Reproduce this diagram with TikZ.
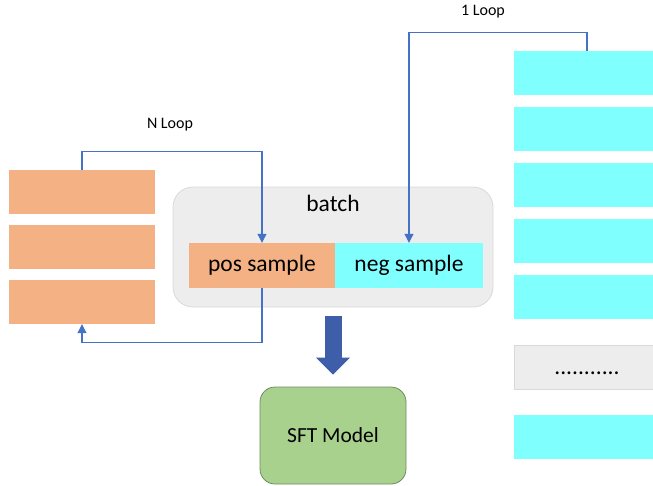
\documentclass[tikz,border=0pt]{standalone}
\usepackage{fontspec}
\setmainfont{Carlito}
\usetikzlibrary{arrows.meta,calc}
\definecolor{posorange}{RGB}{244,177,131}
\definecolor{negcyan}{RGB}{128,255,255}
\definecolor{loopblue}{RGB}{68,114,196}
\definecolor{fatblue}{RGB}{63,94,170}
\definecolor{batchgray}{RGB}{237,237,237}
\definecolor{batchedge}{RGB}{217,217,217}
\definecolor{sftgreen}{RGB}{169,209,142}
\definecolor{sftedge}{RGB}{112,138,96}
\begin{document}
\begin{tikzpicture}[x=1pt,y=1pt]
\tikzstyle{every node}+=[inner sep=0pt]
\tikzstyle{posbox}=[fill=posorange, minimum width=146pt, minimum height=44pt]
\tikzstyle{negbox}=[fill=negcyan, minimum width=146pt, minimum height=44pt]
\tikzstyle{loopline}=[loopblue, line width=1.1pt, -{Triangle[length=9pt,width=9pt]}]
\tikzstyle{bigtext}=[font=\fontsize{23.5}{28}\selectfont]
\tikzstyle{smalltext}=[font=\fontsize{16}{19}\selectfont]
\useasboundingbox (0,0) rectangle (653,-485);
% left stack
\node [posbox] (p1) at (82,-192) {};
\node [posbox] (p2) at (82,-247) {};
\node [posbox] (p3) at (82,-302) {};
% right stack
\node [negbox] (n1) at (587,-73) {};
\node [negbox] (n2) at (587,-129) {};
\node [negbox] (n3) at (587,-185) {};
\node [negbox] (n4) at (587,-241) {};
\node [negbox] (n5) at (587,-297) {};
\node [fill=batchgray, draw=batchedge, line width=0.5pt, minimum width=146pt, minimum height=44pt, text height=14pt, text depth=0pt, bigtext] (ndots) at (587,-367) {...........};
\node [negbox] (n6) at (587,-437) {};
% batch
\node [fill=batchgray, draw=batchedge, line width=0.8pt, rounded corners=20pt, minimum width=320pt, minimum height=120pt] (batch) at (333,-247) {};
\node [bigtext] (batchlabel) at (333,-203) {batch};
\node [posbox, minimum height=45pt, bigtext] (pos) at (262,-265.5) {pos sample};
\node [negbox, minimum width=148pt, minimum height=45pt, bigtext] (neg) at (409,-265.5) {neg sample};
% model
\node [fill=sftgreen, draw=sftedge, line width=0.8pt, rounded corners=15pt, minimum width=146pt, minimum height=97pt, font=\fontsize{21.5}{26}\selectfont] (sft) at (333,-435.5) {SFT Model};
% loops
\node [smalltext] (nlooplabel) at (170,-125) {N Loop};
\node [smalltext] (onelooplabel) at (483,-12) {1 Loop};
\draw [loopline] (p1.north) -- ++(0,18) -| (pos.north);
\draw [loopline] (pos.south) -- ++(0,-54) -| (p3.south);
\draw [loopline] (n1.north) -- ++(0,18) -| (neg.north);
\draw [fatblue, line width=17pt, -{Triangle[length=17pt,width=33pt]}] ($(batch.south)+(0,-9)$) -- ($(sft.north)+(0,12)$);
\end{tikzpicture}
\end{document}
